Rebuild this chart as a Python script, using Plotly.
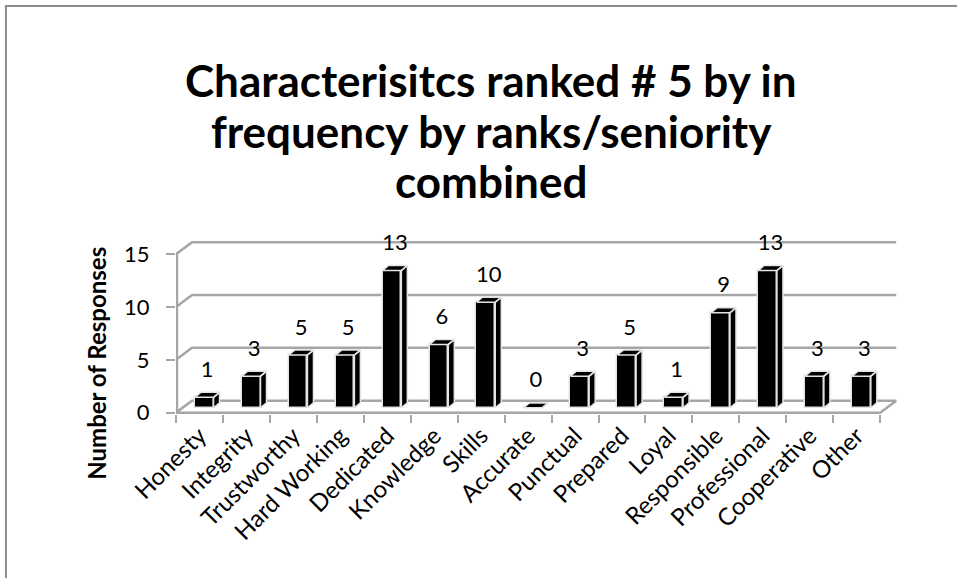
import plotly.graph_objects as go

# ---- data ----
categories = ["Honesty", "Integrity", "Trustworthy", "Hard Working", "Dedicated",
              "Knowledge", "Skills", "Accurate", "Punctual", "Prepared", "Loyal",
              "Responsible", "Professional", "Cooperative", "Other"]
responses = [1, 3, 5, 5, 13, 6, 10, 0, 3, 5, 1, 9, 13, 3, 3]
y_ticks = [0, 5, 10, 15]
title_lines = ["Characterisitcs ranked # 5 by in",
               "frequency by ranks/seniority",
               "combined"]
y_title = "Number of Responses"

# ---- layout geometry (pixels) ----
W, H = 957, 578
X_RANGE = [-0.5, 14.9]
Y_RANGE = [-0.13, 17]
PX_X = 46.93          # pixels per category
PX_Y = 10.6           # pixels per response
L = 176
PW = (X_RANGE[1] - X_RANGE[0]) * PX_X
R = W - L - PW
PH = (Y_RANGE[1] - Y_RANGE[0]) * PX_Y
B = H - (413 + (0 - Y_RANGE[0]) * PX_Y)
T = H - B - PH

def px_to_paper_x(px):
    return (px - L) / PW

def px_to_paper_y(py_from_top):
    return (H - py_from_top - B) / PH

# pseudo-3D depth of the walls and bars (in axis units)
WALL_DX, WALL_DY = 16 / PX_X, 12 / PX_Y
BAR_SHIFT, BAR_LIFT, BAR_W = 0.10, 0.45, 0.40
BAR_DX, BAR_DY = 6 / PX_X, 5 / PX_Y
GRID = "#a6a6a6"
EDGE = "#e4e4e4"

n = len(categories)
first, last = -0.5, n - 0.5

# walls: floor, gridlines on side/back wall, vertical axis line
shapes = []
for v in y_ticks:
    shapes.append(dict(type="path", xref="x", yref="y", layer="below",
                       path=f"M {first},{v} L {first + WALL_DX},{v + WALL_DY} L {last + WALL_DX},{v + WALL_DY}",
                       line=dict(color=GRID, width=2.5)))
shapes.append(dict(type="path", xref="x", yref="y", layer="below",
                   path=f"M {first},0 L {last},0 L {last + WALL_DX},{WALL_DY}",
                   line=dict(color=GRID, width=2.5)))
shapes.append(dict(type="line", xref="x", yref="y", layer="below",
                   x0=first + 0.02, x1=first + 0.02, y0=0, y1=y_ticks[-1],
                   line=dict(color=GRID, width=2.5)))
# chart frame
shapes.append(dict(type="rect", xref="paper", yref="paper",
                   x0=px_to_paper_x(6), x1=px_to_paper_x(W + 10),
                   y0=px_to_paper_y(H + 10), y1=px_to_paper_y(5),
                   line=dict(color="#8c8c8c", width=2), fillcolor="rgba(0,0,0,0)"))

fig = go.Figure()

# front faces of the bars
xs = [i + BAR_SHIFT for i in range(n)]
fig.add_trace(go.Bar(x=xs, y=responses, base=BAR_LIFT, width=BAR_W,
                     marker=dict(color="black", line=dict(color=EDGE, width=1.5)),
                     hoverinfo="skip", showlegend=False))

# side and top faces built from the same values
px, py = [], []
for x, v in zip(xs, responses):
    xl, xr = x - BAR_W / 2, x + BAR_W / 2
    bottom, top = BAR_LIFT, BAR_LIFT + v
    px += [xr, xr, xr + BAR_DX, xr + BAR_DX, xr, None]
    py += [bottom, top, top + BAR_DY, bottom + BAR_DY, bottom, None]
    px += [xl, xr, xr + BAR_DX, xl + BAR_DX, xl, None]
    py += [top, top, top + BAR_DY, top + BAR_DY, top, None]
fig.add_trace(go.Scatter(x=px, y=py, mode="lines", fill="toself", fillcolor="black",
                         line=dict(color=EDGE, width=1.5), hoverinfo="skip",
                         showlegend=False))

# value labels
fig.add_trace(go.Scatter(x=[x + BAR_DX / 2 for x in xs], y=[v + 2.9 for v in responses],
                         mode="text", text=[str(v) for v in responses],
                         textposition="middle center", cliponaxis=False,
                         textfont=dict(family="Lato", size=22, color="black"),
                         hoverinfo="skip", showlegend=False))

# title, one annotation per line
annotations = []
for k, line in enumerate(title_lines):
    annotations.append(dict(text=f"<b>{line}</b>", xref="paper", yref="paper",
                            x=px_to_paper_x(491), y=px_to_paper_y(79 + 51 * k),
                            xanchor="center", yanchor="middle", showarrow=False,
                            font=dict(family="Lato", size=44, color="black")))
annotations.append(dict(text=f"<b>{y_title}</b>", xref="paper", yref="paper",
                        x=px_to_paper_x(97), y=px_to_paper_y(363), xanchor="center",
                        yanchor="middle", textangle=-90, showarrow=False,
                        font=dict(family="Lato", size=24, color="black")))

fig.update_layout(
    width=W, height=H,
    margin=dict(l=L, r=R, t=T, b=B, pad=0),
    paper_bgcolor="white", plot_bgcolor="white",
    bargap=0, showlegend=False,
    shapes=shapes,
    annotations=annotations,
    xaxis=dict(range=X_RANGE, tickmode="array", tickvals=list(range(n)), ticktext=categories,
               tickangle=-45, ticks="", showgrid=False, zeroline=False, showline=False,
               tickfont=dict(family="Lato", size=24, color="black"), ticklabelstandoff=2,
               minor=dict(tickmode="linear", tick0=-0.5, dtick=1, ticks="outside",
                          ticklen=8, tickwidth=2, tickcolor=GRID, showgrid=False)),
    yaxis=dict(range=Y_RANGE, tickmode="array", tickvals=y_ticks, ticks="outside",
               ticklen=9, tickwidth=2, tickcolor=GRID, showgrid=False, zeroline=False,
               showline=False, ticklabelstandoff=12,
               tickfont=dict(family="Lato", size=22, color="black")),
)

fig.write_html("out.html")
